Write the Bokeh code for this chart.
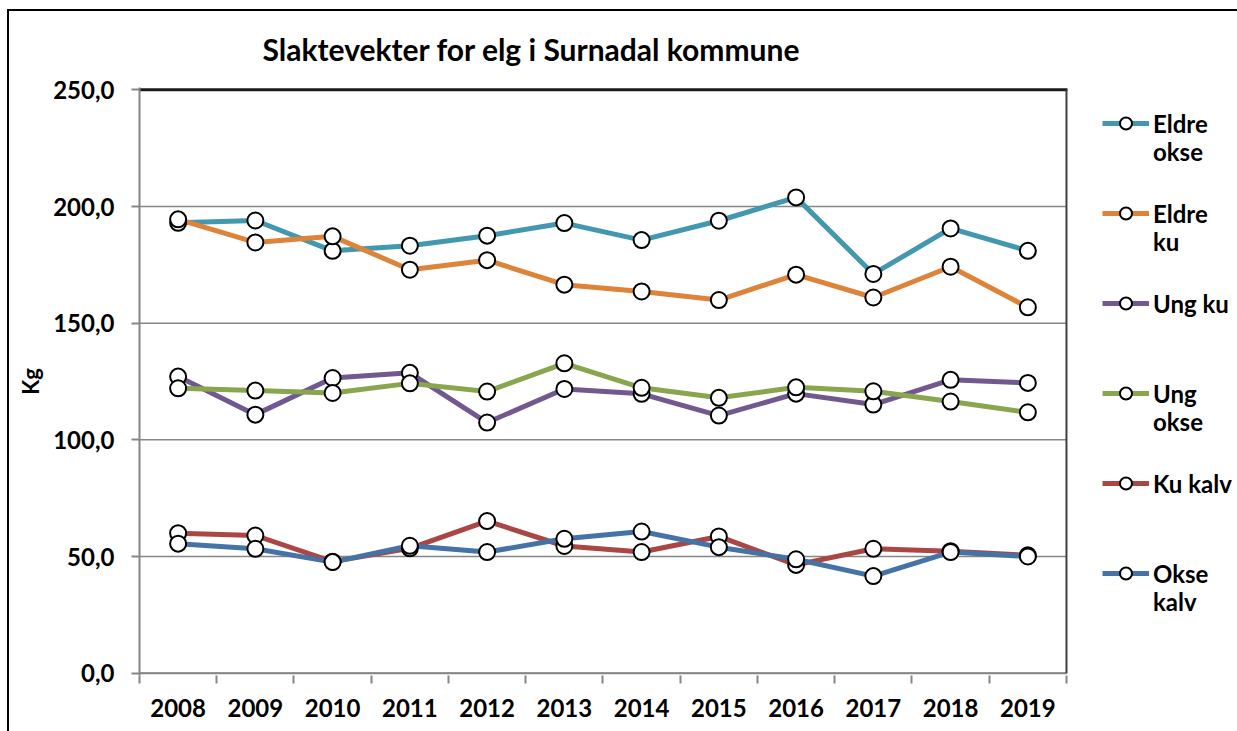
from bokeh.plotting import figure
from bokeh.models import FixedTicker, Legend, LegendItem, ColumnDataSource
from bokeh.embed import file_html
from bokeh.resources import INLINE

years = ["2008", "2009", "2010", "2011", "2012", "2013", "2014", "2015", "2016", "2017", "2018", "2019"]
eldre_okse = [193.0, 194.0, 181.0, 183.2, 187.5, 192.9, 185.6, 193.9, 203.9, 171.1, 190.6, 181.0]
eldre_ku = [194.5, 184.6, 187.2, 172.9, 177.0, 166.5, 163.6, 159.9, 170.8, 161.0, 174.2, 156.8]
ung_ku = [127.1, 110.8, 126.5, 128.7, 107.4, 121.8, 119.7, 110.4, 119.8, 115.1, 125.7, 124.4]
ung_okse = [122.1, 121.1, 120.1, 124.2, 120.7, 132.8, 122.3, 118.0, 122.5, 120.8, 116.4, 111.8]
ku_kalv = [60.0, 59.0, 47.8, 53.5, 65.2, 54.5, 51.9, 58.6, 46.4, 53.3, 52.3, 50.5]
okse_kalv = [55.5, 53.3, 47.6, 54.6, 51.9, 57.6, 60.7, 54.0, 48.8, 41.6, 51.9, 50.0]
y_ticks = [0, 50, 100, 150, 200, 250]
y_tick_labels = ["0,0", "50,0", "100,0", "150,0", "200,0", "250,0"]

series = [
    (["Eldre", "okse"], eldre_okse, "#4198AF"),
    (["Eldre", "ku"], eldre_ku, "#DE843A"),
    (["Ung ku"], ung_ku, "#71588F"),
    (["Ung", "okse"], ung_okse, "#89A54E"),
    (["Ku kalv"], ku_kalv, "#AA4643"),
    (["Okse", "kalv"], okse_kalv, "#4572A7"),
]

FONT = "Lato"
n = len(years)
xs = list(range(n))
x_lo, x_hi = -0.5, n - 0.5
y_lo, y_hi = y_ticks[0], y_ticks[-1]

# frame extends to the right edge so that the legend area is inside it
p = figure(width=1237, height=731, output_backend="svg", toolbar_location=None,
           x_range=(x_lo, x_hi + 2.214), y_range=(y_lo - 1, y_hi + 1),
           min_border_left=139, min_border_right=0, min_border_top=87, min_border_bottom=56)
p.border_fill_alpha = 0
p.styles = {"background": "linear-gradient(#000, #000) 7px 9px / 2px 100% no-repeat, "
                          "linear-gradient(#000, #000) 7px 9px / 100% 2px no-repeat, #ffffff"}
p.background_fill_color = "white"
p.outline_line_color = None

p.title.text = "Slaktevekter for elg i Surnadal kommune"
p.title.text_font = FONT
p.title.text_font_size = "30px"
p.title.text_font_style = "bold"
p.title.text_color = "#000000"
p.title.align = "left"
p.title.offset = 123
p.title.standoff = 42

# axes
p.xaxis.ticker = FixedTicker(ticks=xs, minor_ticks=[i - 0.5 for i in range(n + 1)])
p.xaxis.major_label_overrides = {i: y for i, y in enumerate(years)}
p.xaxis.major_tick_out = 0
p.xaxis.major_tick_in = 0
p.xaxis.minor_tick_out = 8
p.xaxis.minor_tick_in = 0
p.xaxis.minor_tick_line_color = "#868686"
p.xaxis.minor_tick_line_width = 2
p.xaxis.axis_line_color = None
p.xaxis.major_label_standoff = 15
p.xaxis.major_label_text_font = FONT
p.xaxis.major_label_text_font_size = "24px"
p.xaxis.major_label_text_font_style = "bold"
p.xaxis.major_label_text_color = "#000000"

p.yaxis.ticker = FixedTicker(ticks=y_ticks)
p.yaxis.major_label_overrides = {t: l for t, l in zip(y_ticks, y_tick_labels)}
p.yaxis.major_tick_out = 8
p.yaxis.major_tick_in = 0
p.yaxis.minor_tick_line_color = None
p.yaxis.major_tick_line_color = "#868686"
p.yaxis.major_tick_line_width = 2
p.yaxis.axis_line_color = "#868686"
p.yaxis.axis_line_width = 2
p.yaxis.major_label_standoff = 17
p.yaxis.major_label_text_font = FONT
p.yaxis.major_label_text_font_size = "24px"
p.yaxis.major_label_text_font_style = "bold"
p.yaxis.major_label_text_color = "#000000"
p.yaxis.axis_label = "Kg"
p.yaxis.axis_label_text_font = FONT
p.yaxis.axis_label_text_font_size = "22px"
p.yaxis.axis_label_text_font_style = "bold"
p.yaxis.axis_label_text_color = "#000000"
p.yaxis.axis_label_standoff = 6

p.xgrid.grid_line_color = None
p.ygrid.grid_line_color = None

# gridlines / x-axis line / plot-area border, limited to the category span
grid_vals = y_ticks[:-1]
p.segment(x0=[x_lo] * len(grid_vals), x1=[x_hi] * len(grid_vals), y0=grid_vals, y1=grid_vals,
          line_color="#868686", line_width=1.5)
p.segment(x0=[x_lo], x1=[x_hi], y0=[y_lo], y1=[y_lo], line_color="#868686", line_width=2)
p.segment(x0=[x_lo], x1=[x_hi + 0.013], y0=[y_hi], y1=[y_hi], line_color="#1a1a1a", line_width=3)
p.segment(x0=[x_hi], x1=[x_hi], y0=[y_lo], y1=[y_hi], line_color="#404040", line_width=2)

# lines first, then markers
line_rs, mark_rs = [], []
for names, vals, col in series:
    src = ColumnDataSource(dict(x=xs, y=vals))
    line_rs.append(p.line("x", "y", source=src, line_color=col, line_width=5))
for names, vals, col in series:
    src = ColumnDataSource(dict(x=xs, y=vals))
    mark_rs.append(p.scatter("x", "y", source=src, marker="circle", size=16, fill_color="white",
                             line_color="black", line_width=2))

# invisible renderer used only to carry the second line of two-line legend labels
inv_src = ColumnDataSource(dict(x=xs, y=okse_kalv))
inv = p.line("x", "y", source=inv_src, line_alpha=0)

items_a, items_b = [], []
for (names, vals, col), lr, sr in zip(series, line_rs, mark_rs):
    items_a.append(LegendItem(label=names[0], renderers=[lr, sr]))
    items_b.append(LegendItem(label=names[1] if len(names) > 1 else " ", renderers=[inv]))

common = dict(orientation="vertical", glyph_width=47, glyph_height=30, label_height=30,
              label_standoff=4, spacing=60, padding=0, margin=0,
              border_line_color=None, background_fill_alpha=0,
              label_text_font=FONT, label_text_font_size="24px",
              label_text_font_style="bold", label_text_color="#000000")
legend_a = Legend(items=items_a, location=(963, 87), **common)
legend_b = Legend(items=items_b, location=(963, 59), **common)
p.add_layout(legend_a, "center")
p.add_layout(legend_b, "center")

open("out.html", "w").write(file_html(p, INLINE))
